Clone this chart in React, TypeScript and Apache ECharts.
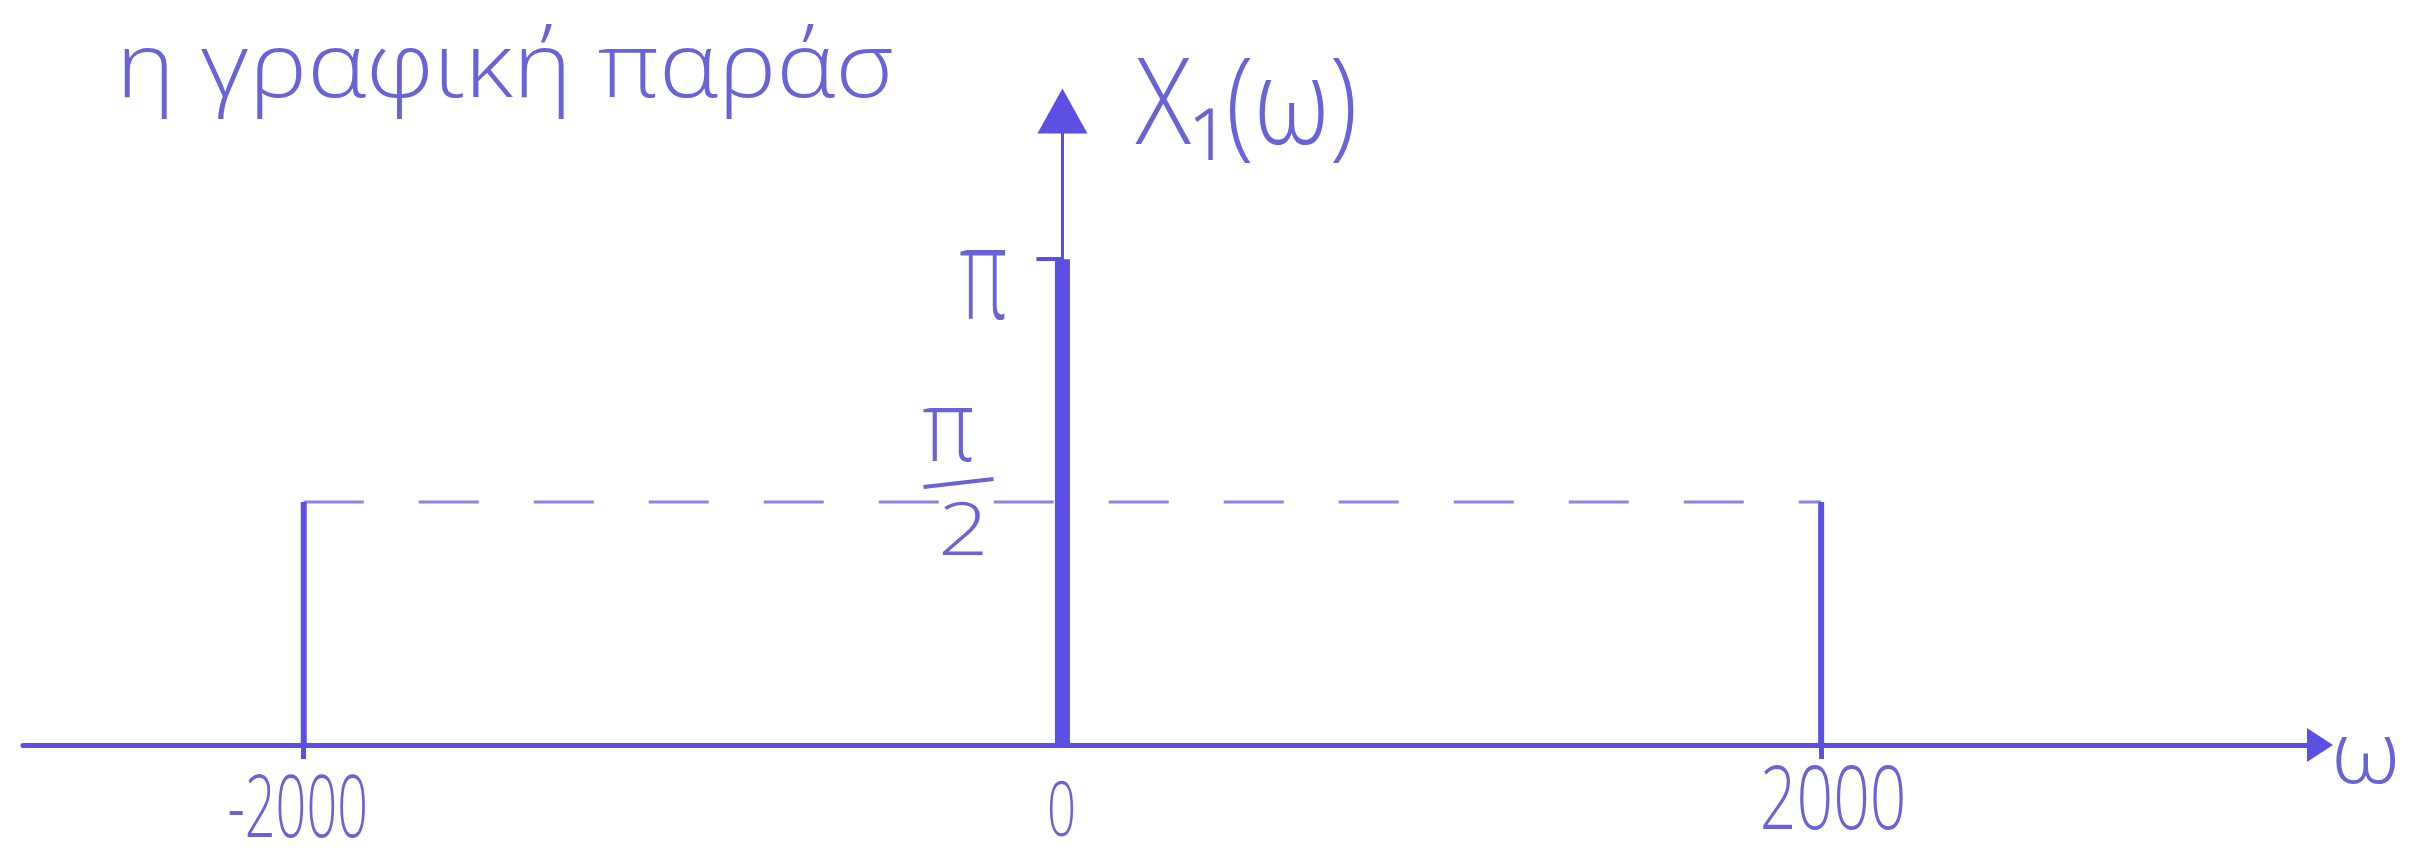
import React, { useEffect, useRef } from "react";
import * as echarts from "echarts";

const PI = Math.PI;

// Spectrum X1(ω): impulse-like stems and the plateau between ±2000
const stemOmega = [-2000, 0, 2000];
const stemValue = [PI / 2, PI, PI / 2];
const stemWidth = [6, 15, 6];
const plateauOmega = [-2000, 2000];
const plateauValue = PI / 2;

// Tick labels
const xTickValues = [-2000, 0, 2000];
const xTickLabels = ["-2000", "0", "2000"];
const yTickPi = "π";
const yTickHalfNum = "π";
const yTickHalfDen = "2";
const yAxisTitle = "X₁(ω)";
const xAxisTitle = "ω";
const heading = "η γραφική παράσ";

const INK = "#5b50e3";
const INK_TEXT = "#6a62d8";
const INK_LIGHT = "#8a84e4";
const FONT = "'Open Sans', 'Noto Sans', sans-serif";

const X_MIN = -2740;
const X_MAX = 3315;
const Y_MAX = 4.1;

function txt(x: number, y: number, text: string, size: number, sx: number, align = "center", vAlign = "middle") {
  return {
    type: "text",
    x,
    y,
    scaleX: sx,
    scaleY: 1,
    silent: true,
    style: {
      text,
      fontSize: size,
      fontFamily: FONT,
      fontWeight: 300,
      fill: INK_TEXT,
      align,
      verticalAlign: vAlign,
      textAlign: align,
      textVerticalAlign: vAlign,
    },
  };
}

export default function App() {
  const ref = useRef<HTMLDivElement>(null);

  useEffect(() => {
    if (!ref.current) return;
    const chart = echarts.init(ref.current, null, { renderer: "svg" });

    const stems = stemOmega.map((w, i) => ({
      type: "line",
      data: [
        [w, 0],
        [w, stemValue[i]],
      ],
      showSymbol: false,
      silent: true,
      z: 3,
      lineStyle: { color: INK, width: stemWidth[i], cap: "butt" },
    }));

    chart.setOption({
      animation: false,
      backgroundColor: "#ffffff",
      grid: { left: 23, right: 101, top: 111, bottom: 117, containLabel: false },
      xAxis: {
        type: "value",
        min: X_MIN,
        max: X_MAX,
        splitLine: { show: false },
        axisLabel: { show: false },
        axisTick: {
          show: true,
          customValues: [-2000, 2000],
          length: 14,
          lineStyle: { color: INK, width: 5 },
        },
        axisLine: {
          show: true,
          lineStyle: { color: INK, width: 5 },
          symbol: ["none", "triangle"],
          symbolSize: [34, 26],
        },
      },
      yAxis: {
        type: "value",
        min: 0,
        max: Y_MAX,
        splitLine: { show: false },
        axisLabel: { show: false },
        axisTick: {
          show: true,
          customValues: [PI],
          length: 26,
          lineStyle: { color: INK, width: 4 },
        },
        axisLine: {
          show: true,
          onZero: true,
          lineStyle: { color: INK, width: 3 },
          symbol: ["none", "triangle"],
          symbolSize: [50, 45],
        },
      },
      series: [
        {
          type: "line",
          data: plateauOmega.map((w) => [w, plateauValue]),
          showSymbol: false,
          silent: true,
          z: 2,
          lineStyle: { color: INK_LIGHT, width: 3, type: [60, 55] },
        },
        ...stems,
      ],
    });

    const px = (x: number, y: number) => chart.convertToPixel({ gridIndex: 0 }, [x, y]) as number[];

    const piPt = px(0, PI);
    const halfPt = px(0, plateauValue);
    const topPt = px(0, Y_MAX);
    const endPt = px(X_MAX, 0);

    const xLabelStyle = [
      { dx: -6, dy: 58, size: 87, sx: 0.62 },
      { dx: -1, dy: 62, size: 76, sx: 0.67 },
      { dx: 12, dy: 50, size: 88, sx: 0.73 },
    ];

    const graphics: any[] = [];
    xTickValues.forEach((v, i) => {
      const p = px(v, 0);
      const s = xLabelStyle[i];
      graphics.push(txt(p[0] + s.dx, p[1] + s.dy, xTickLabels[i], s.size, s.sx));
    });

    // π tick label
    graphics.push(txt(piPt[0] - 79, piPt[1] + 9, yTickPi, 130, 0.6));
    // π/2 written as a fraction
    graphics.push(txt(halfPt[0] - 114, halfPt[1] - 80, yTickHalfNum, 100, 0.85));
    graphics.push({
      type: "line",
      silent: true,
      shape: { x1: halfPt[0] - 139, y1: halfPt[1] - 15, x2: halfPt[0] - 69, y2: halfPt[1] - 23 },
      style: { stroke: INK_TEXT, lineWidth: 4 },
    });
    graphics.push(txt(halfPt[0] - 99, halfPt[1] + 24, yTickHalfDen, 74, 1.2));

    // axis titles
    graphics.push(txt(topPt[0] + 73, topPt[1] - 14, yAxisTitle, 120, 0.86, "left", "middle"));
    graphics.push(txt(endPt[0] + 11, endPt[1] + 4, xAxisTitle, 86, 1.1, "left", "middle"));

    // heading line along the top edge
    graphics.push(txt(116, 62, heading, 90, 1.11, "left", "middle"));

    chart.setOption({ graphic: { elements: graphics } });

    return () => chart.dispose();
  }, []);

  return (
    <div
      ref={ref}
      style={{ position: "absolute", left: 0, top: 0, width: 2421, height: 862 }}
    />
  );
}
